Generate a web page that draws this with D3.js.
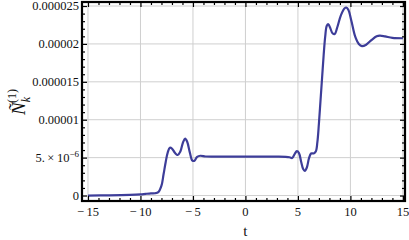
<!DOCTYPE html>
<html><head><meta charset="utf-8">
<script src="https://cdn.jsdelivr.net/npm/d3@7"></script>
<style>body{margin:0;background:#fff}svg{display:block}</style>
</head><body><svg id="c" width="409" height="240"></svg>
<script>
const tValues = [-15,-13,-11,-10,-9.5,-9,-8.6,-8.3,-8.0,-7.8,-7.6,-7.4,-7.2,-7.0,-6.7,-6.45,-6.2,-5.95,-5.75,-5.55,-5.3,-5.05,-4.85,-4.6,-4.3,-3.8,-3,-1,1,3,4.2,4.45,4.7,4.9,5.1,5.3,5.5,5.65,5.85,6.05,6.25,6.5,6.7,6.85,7.0,7.15,7.3,7.45,7.6,7.75,7.9,8.05,8.3,8.5,8.75,9.1,9.45,9.6,9.8,10.1,10.45,10.8,11.1,11.5,12,12.5,12.8,13.3,14,15];
const nValues = [0,0.02,0.08,0.15,0.22,0.28,0.3,0.45,1.3,2.8,4.4,5.7,6.3,6.2,5.6,5.35,5.8,7.0,7.5,7.1,5.7,4.6,4.6,5.1,5.25,5.15,5.13,5.13,5.13,5.13,5.05,4.95,5.5,5.85,5.6,4.5,3.5,3.25,3.7,4.9,5.55,5.55,5.8,7,9.5,12.5,15.5,18.5,21,22.4,22.6,22.2,21.4,21.3,22.2,23.8,24.7,24.8,24.5,23,21,20,19.7,19.9,20.5,21,21.1,21,20.8,20.75].map(v=>v*1e-6);
const xTicks = [-15,-10,-5,0,5,10,15];
const xTickLabels = ["\u221215","\u221210","\u22125","0","5","10","15"];
const yTicks = [0,5e-6,1e-5,1.5e-5,2e-5,2.5e-5];
const yTickLabels = ["0","5e-6","0.00001","0.000015","0.00002","0.000025"];

const FONT = "Liberation Serif";
const svg = d3.select("#c");
const L=82,R=405,T=2,B=201;
const x = d3.scaleLinear().domain([-15.57,15.2]).range([L,R]);
const y = d3.scaleLinear().domain([-0.72e-6,25.53e-6]).range([B,T]);

const g = svg.append("g");
g.selectAll(".gx").data(xTicks).join("line")
  .attr("x1",d=>x(d)).attr("x2",d=>x(d)).attr("y1",T).attr("y2",B)
  .attr("stroke","#cfcfcf").attr("stroke-width",1);
g.selectAll(".gy").data(yTicks).join("line")
  .attr("y1",d=>y(d)).attr("y2",d=>y(d)).attr("x1",L).attr("x2",R)
  .attr("stroke","#cfcfcf").attr("stroke-width",1);

const data = tValues.map((t,i)=>[t,nValues[i]]);
svg.append("path").datum(data)
  .attr("d",d3.line().x(d=>x(d[0])).y(d=>y(d[1])).curve(d3.curveCatmullRom.alpha(0.5)))
  .attr("fill","none").attr("stroke","#3d3d99").attr("stroke-width",2.2);

const xMinor = d3.range(-15,16,1).filter(v=>v%5!==0);
const yMinor = d3.range(0,26,1).filter(v=>v%5!==0).map(v=>v*1e-6);
function ax(axisFn, scale, ticks, size, transform){
  svg.append("g").attr("transform",transform)
    .call(axisFn(scale).tickValues(ticks).tickSize(size).tickFormat(""))
    .call(s=>s.select(".domain").remove())
    .selectAll("line").attr("stroke","#000").attr("stroke-width",1.2);
}
ax(d3.axisTop,x,xTicks,5,`translate(0,${B})`);
ax(d3.axisTop,x,xMinor,3,`translate(0,${B})`);
ax(d3.axisBottom,x,xTicks,5,`translate(0,${T})`);
ax(d3.axisBottom,x,xMinor,3,`translate(0,${T})`);
ax(d3.axisRight,y,yTicks,5,`translate(${L},0)`);
ax(d3.axisRight,y,yMinor,3,`translate(${L},0)`);
ax(d3.axisLeft,y,yTicks,5,`translate(${R},0)`);
ax(d3.axisLeft,y,yMinor,3,`translate(${R},0)`);

svg.append("rect").attr("x",L).attr("y",T).attr("width",R-L).attr("height",B-T)
  .attr("fill","none").attr("stroke","#000").attr("stroke-width",2.2);

svg.append("g").selectAll("text").data(xTicks).join("text")
  .attr("x",d=>x(d)).attr("y",B+15).attr("text-anchor","middle")
  .style("font-family",FONT).attr("font-size",12.5).attr("fill","#111")
  .text((d,i)=>xTickLabels[i].replace("\u2212","\u2212\u2009"));
const yl = svg.append("g").selectAll("text").data(yTicks).join("text")
  .attr("x",L-3).attr("y",d=>y(d)+4).attr("text-anchor","end")
  .style("font-family",FONT).attr("font-size",12.5).attr("fill","#111");
yl.each(function(d,i){
  const s=d3.select(this);
  if(yTickLabels[i]==="5e-6"){
    s.append("tspan").text("5.\u2009\u00d7\u200910");
    s.append("tspan").attr("dy",-5).attr("font-size",9).text("\u22126");
  } else s.text(yTickLabels[i]);
});
svg.append("text").attr("x",x(0)).attr("y",236).attr("text-anchor","middle")
  .style("font-family",FONT).attr("font-size",15).attr("fill","#111").text("t");
const yt = svg.append("text").attr("transform","translate(25,102) rotate(-90)")
  .attr("text-anchor","middle").style("font-family",FONT).attr("font-size",19).attr("fill","#111");
yt.append("tspan").attr("font-style","italic").text("\u00d1");
yt.append("tspan").attr("font-style","italic").attr("font-size",12).attr("dy",5).text("k");
yt.append("tspan").attr("font-size",12).attr("dx",-6).attr("dy",-14).text("(1)");
</script></body></html>
